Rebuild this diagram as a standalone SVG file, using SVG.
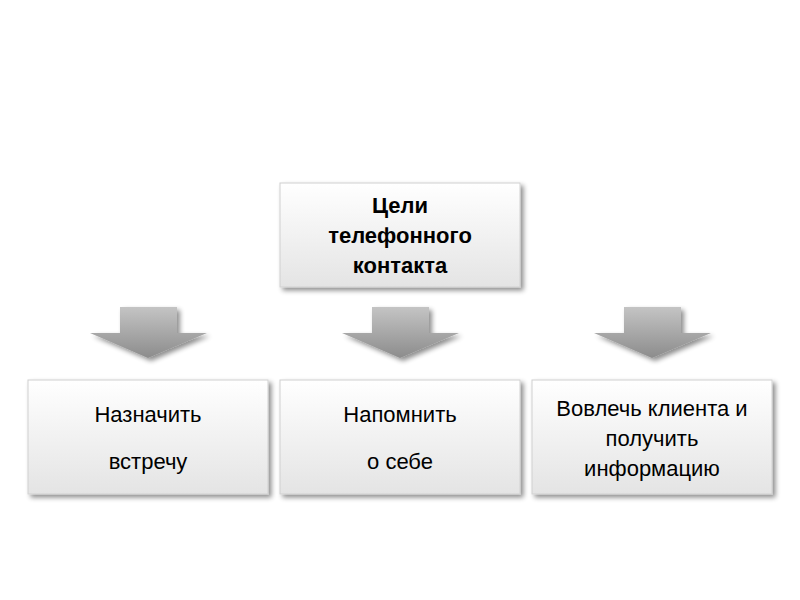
<svg xmlns="http://www.w3.org/2000/svg" width="800" height="600" viewBox="0 0 800 600">
<defs>
<linearGradient id="bg" x1="0" y1="0" x2="0" y2="1"><stop offset="0" stop-color="#ffffff"/><stop offset="1" stop-color="#e4e4e4"/></linearGradient>
<linearGradient id="ag" x1="0" y1="0" x2="0" y2="1"><stop offset="0" stop-color="#c4c4c4"/><stop offset="1" stop-color="#8c8c8c"/></linearGradient>
<filter id="sh" x="-10%" y="-10%" width="130%" height="130%"><feGaussianBlur in="SourceAlpha" stdDeviation="2.5"/><feOffset dx="3" dy="3"/><feComponentTransfer><feFuncA type="linear" slope="0.45"/></feComponentTransfer><feMerge><feMergeNode/><feMergeNode in="SourceGraphic"/></feMerge></filter>
</defs>
<style>
.box{fill:url(#bg);stroke:#d0d0d0;stroke-width:1;filter:url(#sh)}
.t{font-family:"Liberation Sans",Arial,sans-serif;font-size:22px;fill:#000;text-anchor:middle}
.b{font-weight:bold}
.arr{fill:url(#ag);filter:url(#sh)}
</style>
<rect width="800" height="600" fill="#fff"/>
<g id="top"><rect class="box" x="280" y="183" width="240" height="104"/>
<text class="t b" x="400" y="213">Цели</text><text class="t b" x="400" y="243">телефонного</text><text class="t b" x="400" y="273">контакта</text></g>
<g id="connectors">
<path class="arr" d="M120,307H177V333H207L148,358L90,333H120Z"/>
<path class="arr" d="M372,307H429V333H459L400,358L342,333H372Z"/>
<path class="arr" d="M624,307H681V333H711L652,358L594,333H624Z"/>
</g>
<g id="n1"><rect class="box" x="28" y="380" width="240" height="114"/>
<text class="t" x="148" y="422">Назначить</text><text class="t" x="148" y="469">встречу</text></g>
<g id="n2"><rect class="box" x="280" y="380" width="240" height="114"/>
<text class="t" x="400" y="422">Напомнить</text><text class="t" x="400" y="469">о себе</text></g>
<g id="n3"><rect class="box" x="532" y="380" width="240" height="114"/>
<text class="t" x="652" y="416">Вовлечь клиента и</text><text class="t" x="652" y="446">получить</text><text class="t" x="652" y="476">информацию</text></g>
</svg>
